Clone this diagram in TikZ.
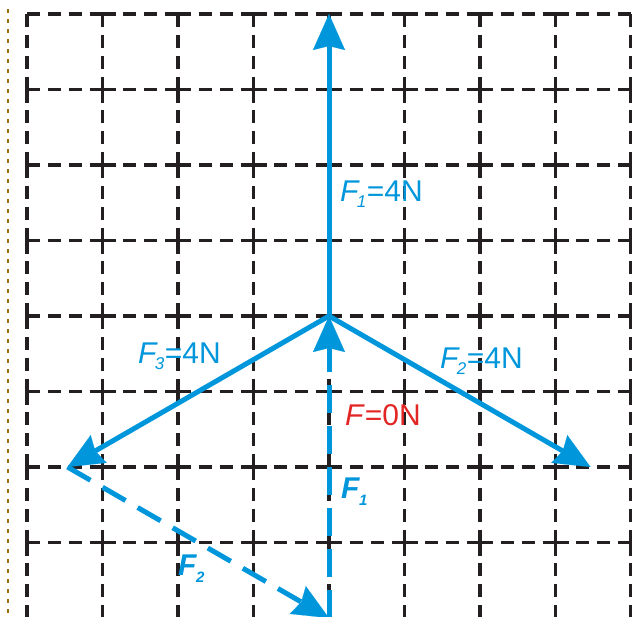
\documentclass[tikz,border=0pt]{standalone}
\usepackage{fontspec}
\setmainfont{Liberation Sans}
\usetikzlibrary{arrows.meta}
\definecolor{fblue}{RGB}{0,150,219}
\definecolor{fred}{RGB}{226,38,36}
\definecolor{gridc}{RGB}{35,31,32}
\definecolor{orangec}{RGB}{160,110,10}
\newcommand\fsub[1]{\kern-3pt\raisebox{-6pt}{\fontsize{17}{17}\selectfont\itshape #1}\kern0.5pt}
\newcommand\fbsub[1]{\kern-1pt\raisebox{-7pt}{\fontsize{15}{15}\selectfont\bfseries\itshape #1}}
\begin{document}
\begin{tikzpicture}[x=1pt,y=-1pt,
  gridline/.style={draw=gridc, line width=3.1pt, dash pattern=on 13pt off 7.9pt},
  force/.style={draw=fblue, line width=5pt, -{Stealth[length=36pt,width=32pt,inset=4pt,line width=0.1pt]}},
  forcedash/.style={force, dash pattern=on 28pt off 13pt},
  forcediag/.style={force, dash pattern=on 26.5pt off 14pt},
  lab/.style={anchor=base west, inner sep=0pt, font=\fontsize{30}{30}\selectfont, text=fblue}]
\useasboundingbox (0,0) rectangle (632,616);
\begin{scope}
\clip (0,0) rectangle (632,616);
% dotted margin line
\draw[draw=orangec, line width=2.2pt, dash pattern=on 4.3pt off 5.7pt] (8,9) -- (8,616);
% grid
\foreach \i in {0,...,7} {
  \foreach \j in {0,...,7} {
    \draw[gridline] ({27+75.5*\i},{14+75.5*\j}) -- ({27+75.5*(\i+1)},{14+75.5*\j});
    \draw[gridline] ({27+75.5*\i},{14+75.5*\j}) -- ({27+75.5*\i},{14+75.5*(\j+1)});
  }
}
\foreach \j in {0,...,7} {
  \draw[gridline] (631,{14+75.5*\j}) -- (631,{14+75.5*(\j+1)});
}
% points
\coordinate (O) at (329,316);
\coordinate (A) at (329,14);
\coordinate (B) at (590.5,467);
\coordinate (C) at (67.5,467);
\coordinate (D) at (329,618);
% forces
\draw[forcediag] (C) -- (D);
\draw[forcedash] (D) -- (O);
\draw[force] (O) -- (A);
\draw[force] (O) -- (B);
\draw[force] (O) -- (C);
\end{scope}
% labels
\node[lab] (l1) at (340,201) {\textit{F}\fsub{1}=4N};
\node[lab] (l3) at (138,363) {\textit{F}\fsub{3}=4N};
\node[lab] (l2) at (440,368) {\textit{F}\fsub{2}=4N};
\node[lab, text=fred] (l0) at (345,425) {\textit{F}=0N};
\node[lab] (b1) at (341,498) {\textbf{\textit{F}}\fbsub{1}};
\node[lab] (b2) at (178,575) {\textbf{\textit{F}}\fbsub{2}};
\end{tikzpicture}
\end{document}
